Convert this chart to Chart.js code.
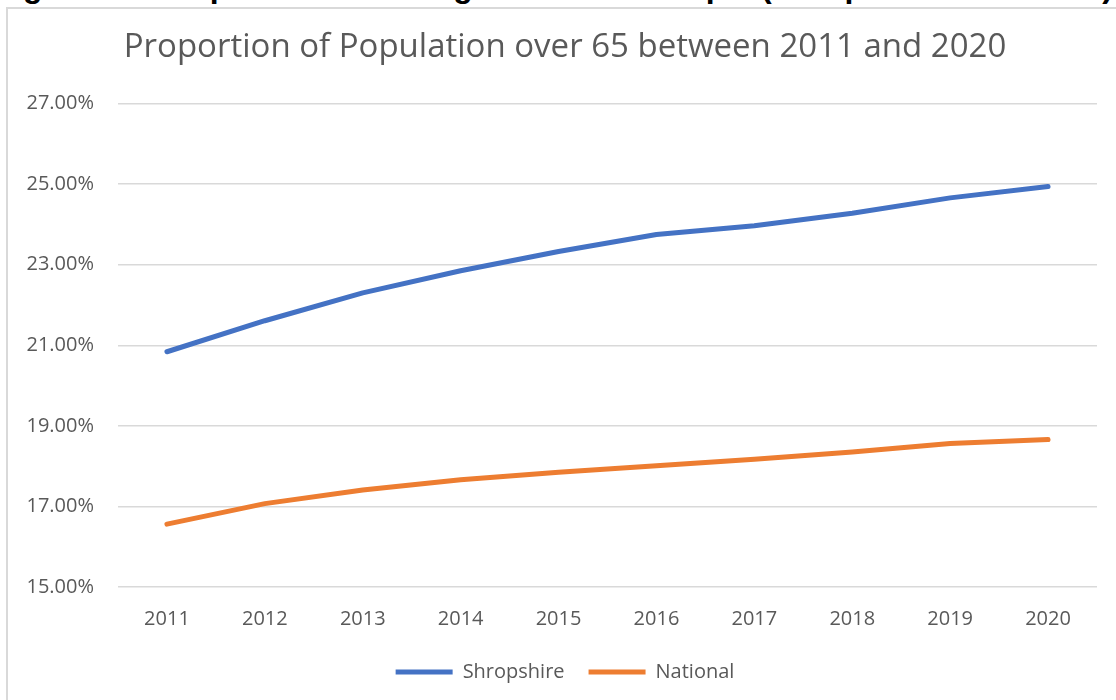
<!DOCTYPE html>
<html>
<head>
<meta charset="utf-8">
<title>Proportion of Population over 65</title>
<script src="https://cdn.jsdelivr.net/npm/chart.js@4.4.1/dist/chart.umd.min.js"></script>
<style>
    body {
        margin: 0;
        width: 1116px;
        height: 700px;
        overflow: hidden;
        background: #fff;
        position: relative;
    }
    #heading {
        position: absolute;
        right: 3px;
        top: -32px;
        font: bold 32px "Liberation Sans", Arial, sans-serif;
        line-height: 36px;
        white-space: nowrap;
        color: #000;
    }
    #frame {
        position: absolute;
        left: 6px;
        top: 7px;
        width: 1130px;
        height: 720px;
        border-left: 2px solid #d9d9d9;
        border-top: 2px solid #d9d9d9;
    }
    #myChart {
        position: absolute;
        left: 0;
        top: 0;
    }
</style>
</head>
<body>
<div id="heading">Figure 7: Comparison of Changes in Older People (Shropshire v National)</div>
<div id="frame">
    <canvas id="myChart" width="1120" height="700"></canvas>
</div>
<script>
var TITLE = "Proportion of Population over 65 between 2011 and 2020";
var years = ["2011", "2012", "2013", "2014", "2015", "2016", "2017", "2018", "2019", "2020"];
var shropshire = [20.84, 21.61, 22.30, 22.85, 23.33, 23.75, 23.97, 24.28, 24.66, 24.94];
var national = [16.56, 17.07, 17.41, 17.66, 17.85, 18.01, 18.17, 18.35, 18.56, 18.66];
var yMin = 15, yMax = 27, yStep = 2;

var FONT = '"Open Sans", "Noto Sans", sans-serif';
var TEXT_COLOR = "#595959";

function buildDataset(label, values, color) {
    return {
        label: label,
        data: values,
        borderColor: color,
        backgroundColor: color,
        borderWidth: 5,
        borderCapStyle: "round",
        borderJoinStyle: "round",
        pointRadius: 0,
        tension: 0,
        fill: false
    };
}

var ctx = document.getElementById("myChart");
var chart = new Chart(ctx, {
    type: "line",
    data: {
        labels: years,
        datasets: [
            buildDataset("Shropshire", shropshire, "#4472C4"),
            buildDataset("National", national, "#ED7D31")
        ]
    },
    options: {
        responsive: false,
        animation: false,
        layout: {
            padding: {left: 0, right: 6, top: 0, bottom: 17}
        },
        plugins: {
            title: {
                display: true,
                text: TITLE,
                color: TEXT_COLOR,
                font: {family: FONT, size: 33, weight: "normal"},
                padding: {top: 19, bottom: 36}
            },
            legend: {
                position: "bottom",
                labels: {
                    usePointStyle: true,
                    pointStyle: "line",
                    pointStyleWidth: 57,
                    color: TEXT_COLOR,
                    font: {family: FONT, size: 20},
                    padding: 24
                }
            },
            tooltip: {enabled: false}
        },
        scales: {
            x: {
                offset: true,
                grid: {display: false},
                border: {display: false},
                ticks: {
                    color: TEXT_COLOR,
                    font: {family: FONT, size: 20},
                    padding: 12
                },
                afterFit: function(scale) {
                    scale.height = 51;
                }
            },
            y: {
                min: yMin,
                max: yMax,
                grid: {color: "#d9d9d9", lineWidth: 1.5, drawTicks: false},
                border: {display: false},
                ticks: {
                    stepSize: yStep,
                    color: TEXT_COLOR,
                    font: {family: FONT, size: 20},
                    padding: 24,
                    callback: function(value) {
                        return value.toFixed(2) + "%";
                    }
                },
                afterFit: function(scale) {
                    scale.width = 110;
                }
            },
            // empty right-hand margin so the title and legend stay centred on the frame
            yRight: {
                position: "right",
                min: yMin,
                max: yMax,
                grid: {display: false},
                border: {display: false},
                ticks: {display: false},
                afterFit: function(scale) {
                    scale.width = 25;
                }
            }
        }
    }
});
</script>
</body>
</html>
